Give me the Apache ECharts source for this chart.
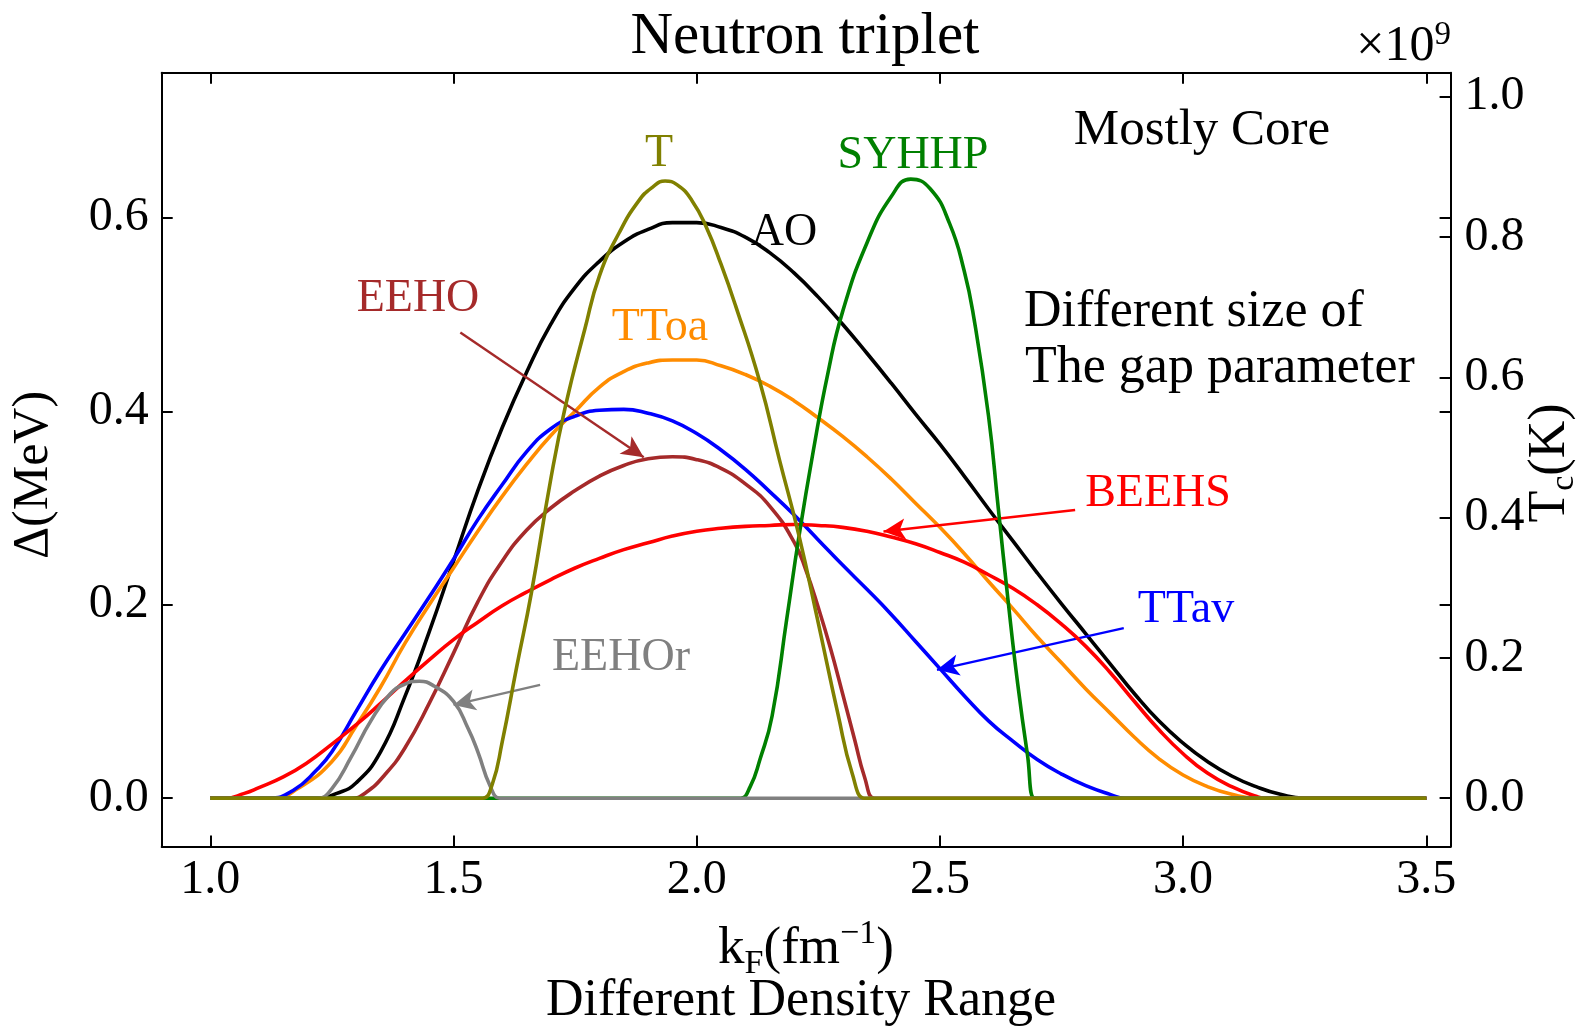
<!DOCTYPE html>
<html>
<head>
<meta charset="utf-8">
<script src="https://cdn.jsdelivr.net/npm/echarts@6.0.0/dist/echarts.min.js"></script>
<style>
  html, body { margin: 0; padding: 0; background: #fff; }
  #chart { width: 1585px; height: 1027px; }
</style>
</head>
<body>
<div id="chart"></div>
<script>
// ---------- data (k_F in fm^-1, Delta in MeV) ----------
const X_TICKS = [1.0, 1.5, 2.0, 2.5, 3.0, 3.5];
const Y_TICKS = [0.0, 0.2, 0.4, 0.6];
const TC_TICKS = [0.0, 0.2, 0.4, 0.6, 0.8, 1.0];

const AO = [[1.0,0],[1.20,0],[1.22,0],[1.26,0.005],[1.30,0.016],[1.35,0.048],[1.40,0.105],[1.45,0.172],[1.50,0.245],[1.55,0.318],[1.60,0.383],[1.65,0.440],[1.70,0.490],[1.75,0.528],[1.80,0.555],[1.85,0.575],[1.90,0.588],[1.95,0.595],[2.00,0.595],[2.05,0.590],[2.10,0.580],[2.15,0.564],[2.20,0.543],[2.25,0.518],[2.30,0.490],[2.35,0.460],[2.40,0.429],[2.45,0.397],[2.50,0.366],[2.55,0.333],[2.60,0.299],[2.65,0.266],[2.70,0.233],[2.75,0.201],[2.80,0.170],[2.85,0.139],[2.90,0.108],[2.95,0.080],[3.00,0.057],[3.05,0.038],[3.10,0.023],[3.15,0.012],[3.20,0.004],[3.25,0],[3.27,0],[3.5,0]];

const TToa = [[1.0,0],[1.11,0],[1.13,0],[1.18,0.010],[1.25,0.038],[1.30,0.075],[1.35,0.115],[1.40,0.160],[1.45,0.200],[1.50,0.238],[1.55,0.276],[1.60,0.312],[1.65,0.345],[1.70,0.375],[1.75,0.400],[1.80,0.425],[1.85,0.441],[1.90,0.450],[1.95,0.453],[2.00,0.453],[2.05,0.447],[2.10,0.438],[2.15,0.426],[2.20,0.411],[2.25,0.393],[2.30,0.374],[2.35,0.353],[2.40,0.330],[2.45,0.305],[2.50,0.280],[2.55,0.253],[2.60,0.224],[2.65,0.196],[2.70,0.167],[2.75,0.140],[2.80,0.113],[2.85,0.088],[2.90,0.063],[2.95,0.041],[3.00,0.024],[3.05,0.012],[3.10,0.004],[3.15,0],[3.17,0],[3.5,0]];

const TTav = [[1.0,0],[1.10,0],[1.12,0],[1.17,0.008],[1.22,0.030],[1.25,0.048],[1.30,0.090],[1.35,0.132],[1.40,0.170],[1.45,0.208],[1.50,0.247],[1.55,0.288],[1.60,0.324],[1.65,0.358],[1.70,0.382],[1.75,0.395],[1.80,0.401],[1.85,0.402],[1.90,0.398],[1.95,0.390],[2.00,0.377],[2.05,0.360],[2.10,0.340],[2.15,0.317],[2.20,0.293],[2.25,0.267],[2.30,0.241],[2.35,0.216],[2.40,0.190],[2.45,0.162],[2.50,0.134],[2.55,0.106],[2.60,0.080],[2.65,0.059],[2.70,0.040],[2.75,0.025],[2.80,0.013],[2.85,0.004],[2.88,0],[2.90,0],[3.5,0]];

const EEHO = [[1.0,0],[1.27,0],[1.29,0],[1.32,0.006],[1.36,0.025],[1.40,0.052],[1.45,0.098],[1.50,0.150],[1.55,0.203],[1.60,0.245],[1.65,0.277],[1.70,0.300],[1.75,0.318],[1.80,0.333],[1.85,0.344],[1.90,0.351],[1.95,0.353],[2.00,0.350],[2.05,0.341],[2.10,0.325],[2.15,0.302],[2.20,0.265],[2.225,0.235],[2.25,0.197],[2.275,0.155],[2.30,0.108],[2.325,0.060],[2.345,0.022],[2.365,0],[2.38,0],[3.5,0]];

const BEEHS = [[1.0,0],[1.02,0],[1.03,0],[1.07,0.005],[1.10,0.011],[1.15,0.022],[1.20,0.037],[1.25,0.056],[1.30,0.076],[1.35,0.098],[1.40,0.121],[1.45,0.143],[1.50,0.164],[1.55,0.182],[1.60,0.199],[1.65,0.213],[1.70,0.226],[1.75,0.238],[1.80,0.248],[1.85,0.257],[1.90,0.264],[1.95,0.271],[2.00,0.276],[2.05,0.279],[2.10,0.281],[2.15,0.282],[2.20,0.283],[2.25,0.282],[2.30,0.280],[2.35,0.276],[2.40,0.270],[2.45,0.263],[2.50,0.254],[2.55,0.244],[2.60,0.231],[2.65,0.217],[2.70,0.200],[2.75,0.180],[2.80,0.157],[2.85,0.130],[2.90,0.100],[2.95,0.071],[3.00,0.046],[3.05,0.026],[3.10,0.012],[3.15,0.002],[3.17,0],[3.19,0],[3.5,0]];

const SYHHP = [[1.0,0],[2.07,0],[2.09,0],[2.11,0.012],[2.13,0.040],[2.155,0.085],[2.185,0.185],[2.21,0.270],[2.24,0.360],[2.27,0.440],[2.30,0.503],[2.35,0.574],[2.40,0.622],[2.44,0.640],[2.48,0.630],[2.52,0.594],[2.55,0.545],[2.57,0.496],[2.60,0.395],[2.62,0.300],[2.64,0.205],[2.66,0.118],[2.68,0.045],[2.695,0],[2.71,0],[3.5,0]];

const EEHOr = [[1.0,0],[1.20,0],[1.22,0],[1.25,0.010],[1.29,0.043],[1.33,0.080],[1.37,0.108],[1.40,0.118],[1.43,0.121],[1.46,0.116],[1.50,0.100],[1.53,0.072],[1.55,0.048],[1.575,0.013],[1.595,0],[1.61,0],[3.5,0]];

const T = [[1.0,0],[1.54,0],[1.56,0],[1.58,0.015],[1.60,0.058],[1.63,0.136],[1.66,0.212],[1.70,0.330],[1.73,0.405],[1.77,0.485],[1.80,0.540],[1.84,0.584],[1.88,0.617],[1.91,0.632],[1.935,0.638],[1.96,0.634],[1.99,0.618],[2.02,0.590],[2.05,0.552],[2.08,0.509],[2.13,0.430],[2.17,0.350],[2.21,0.272],[2.25,0.181],[2.29,0.088],[2.32,0.025],[2.345,0],[2.36,0],[3.5,0]];

// annotation arrows: [from, to] in data coordinates
const ARROW_EEHO  = [[1.514, 0.4815], [1.891, 0.3524]];
const ARROW_BEEHS = [[2.778, 0.298], [2.384, 0.2757]];
const ARROW_TTAV  = [[2.878, 0.1758], [2.494, 0.1327]];
const ARROW_EEHOR = [[1.678, 0.1172], [1.500, 0.0965]];

// ---------- chart ----------
const SERIF = '"Liberation Serif", "DejaVu Serif", serif';
const chart = echarts.init(document.getElementById('chart'), null, { renderer: 'canvas' });

function lineSeries(name, data, color, arrow, z) {
  const s = {
    name, type: 'line', data, xAxisIndex: 0, yAxisIndex: 0,
    showSymbol: false, symbol: 'none', smooth: 0.5,
    lineStyle: { color, width: 3.6 }, itemStyle: { color }, z: z,
    silent: true
  };
  if (arrow) {
    s.markLine = {
      silent: true, symbol: ['none', 'arrow'], symbolSize: [16, 22],
      label: { show: false },
      lineStyle: { color, width: 2.4, type: 'solid' },
      data: [[{ coord: arrow[0] }, { coord: arrow[1] }]]
    };
  }
  return s;
}

const axisLineStyle = { color: '#000', width: 2 };
const tickStyle = { color: '#000', width: 2 };

const option = {
  animation: false,
  backgroundColor: '#fff',
  grid: { left: 161.7, right: 134.4, top: 72.7, bottom: 180.4, containLabel: false },
  xAxis: [
    {
      type: 'value', position: 'bottom', min: 0.9, max: 3.55,
      axisLine: { show: true, onZero: false, lineStyle: axisLineStyle },
      axisTick: { show: true, inside: true, length: 11, customValues: X_TICKS, lineStyle: tickStyle },
      axisLabel: { show: true, customValues: X_TICKS, formatter: v => v.toFixed(1),
        fontFamily: SERIF, fontSize: 48, color: '#000', margin: 10 },
      splitLine: { show: false }
    },
    {
      type: 'value', position: 'top', min: 0.9, max: 3.55,
      axisLine: { show: true, onZero: false, lineStyle: axisLineStyle },
      axisTick: { show: true, inside: true, length: 11, customValues: X_TICKS, lineStyle: tickStyle },
      axisLabel: { show: false },
      splitLine: { show: false }
    }
  ],
  yAxis: [
    {
      type: 'value', position: 'left', min: -0.05, max: 0.75,
      axisLine: { show: true, onZero: false, lineStyle: axisLineStyle },
      axisTick: { show: true, inside: true, length: 11, customValues: Y_TICKS, lineStyle: tickStyle },
      axisLabel: { show: true, customValues: Y_TICKS, formatter: v => v.toFixed(1),
        fontFamily: SERIF, fontSize: 48, color: '#000', margin: 13 },
      splitLine: { show: false }
    },
    {
      type: 'value', position: 'right', min: -0.069, max: 1.0343,
      axisLine: { show: true, onZero: false, lineStyle: axisLineStyle },
      axisTick: { show: true, inside: true, length: 11, customValues: TC_TICKS, lineStyle: tickStyle },
      axisLabel: { show: true, customValues: TC_TICKS, formatter: v => v.toFixed(1),
        fontFamily: SERIF, fontSize: 48, color: '#000', margin: 14 },
      splitLine: { show: false }
    },
    {
      type: 'value', position: 'right', min: -0.05, max: 0.75, offset: 0,
      axisLine: { show: false, onZero: false },
      axisTick: { show: true, inside: true, length: 11, customValues: Y_TICKS, lineStyle: tickStyle },
      axisLabel: { show: false },
      splitLine: { show: false }
    }
  ],
  series: [
    lineSeries('AO', AO, '#000000', null, 2),
    lineSeries('TToa', TToa, '#ff8c00', null, 3),
    lineSeries('TTav', TTav, '#0000ff', ARROW_TTAV, 4),
    lineSeries('EEHO', EEHO, '#a52a2a', ARROW_EEHO, 5),
    lineSeries('BEEHS', BEEHS, '#ff0000', ARROW_BEEHS, 6),
    lineSeries('SYHHP', SYHHP, '#008000', null, 7),
    lineSeries('EEHOr', EEHOr, '#808080', ARROW_EEHOR, 8),
    lineSeries('T', T, '#808000', null, 9)
  ],
  graphic: [
    // title
    { type: 'text', x: 805, y: 37, z: 100, style: { text: 'Neutron triplet', fontFamily: SERIF, fontSize: 59,
      fill: '#000', align: 'center', verticalAlign: 'middle', textAlign: 'center', textVerticalAlign: 'middle' } },
    // x10^9 multiplier
    { type: 'text', x: 1451, y: 47, z: 100, style: {
      text: '{a|×10}{s|9}', align: 'right', verticalAlign: 'middle', textAlign: 'right', textVerticalAlign: 'middle',
      rich: {
        a: { fontFamily: SERIF, fontSize: 50, fill: '#000', lineHeight: 56, verticalAlign: 'middle' },
        s: { fontFamily: SERIF, fontSize: 33, fill: '#000', lineHeight: 30, verticalAlign: 'top' }
      } } },
    // x axis label
    { type: 'text', x: 806, y: 949, z: 100, style: {
      text: '{a|k}{b|F}{a|(fm}{c|−1}{a|)}', align: 'center', verticalAlign: 'middle', textAlign: 'center', textVerticalAlign: 'middle',
      rich: {
        a: { fontFamily: SERIF, fontSize: 53, fill: '#000', lineHeight: 64, verticalAlign: 'middle' },
        b: { fontFamily: SERIF, fontSize: 34, fill: '#000', lineHeight: 30, verticalAlign: 'bottom' },
        c: { fontFamily: SERIF, fontSize: 34, fill: '#000', lineHeight: 30, verticalAlign: 'top' }
      } } },
    // left y label
    { type: 'text', x: 34, y: 475, rotation: Math.PI / 2, z: 100, style: {
      text: 'Δ(MeV)', fontFamily: SERIF, fontSize: 50, fill: '#000',
      align: 'center', verticalAlign: 'middle', textAlign: 'center', textVerticalAlign: 'middle' } },
    // right y label
    { type: 'text', x: 1550, y: 463, rotation: Math.PI / 2, z: 100, style: {
      text: '{a|T}{b|c}{a|(K)}', align: 'center', verticalAlign: 'middle', textAlign: 'center', textVerticalAlign: 'middle',
      rich: {
        a: { fontFamily: SERIF, fontSize: 52, fill: '#000', lineHeight: 62, verticalAlign: 'middle' },
        b: { fontFamily: SERIF, fontSize: 34, fill: '#000', lineHeight: 30, verticalAlign: 'bottom' }
      } } },
    // bottom caption
    { type: 'text', x: 801, y: 1001, z: 100, style: { text: 'Different Density Range', fontFamily: SERIF, fontSize: 52,
      fill: '#000', align: 'center', verticalAlign: 'middle', textAlign: 'center', textVerticalAlign: 'middle' } },
    // region notes
    { type: 'text', x: 1202, y: 131, z: 100, style: { text: 'Mostly Core', fontFamily: SERIF, fontSize: 51,
      fill: '#000', align: 'center', verticalAlign: 'middle', textAlign: 'center', textVerticalAlign: 'middle' } },
    { type: 'text', x: 1024, y: 312, z: 100, style: { text: 'Different size of', fontFamily: SERIF, fontSize: 52,
      fill: '#000', align: 'left', verticalAlign: 'middle', textAlign: 'left', textVerticalAlign: 'middle' } },
    { type: 'text', x: 1025, y: 368, z: 100, style: { text: 'The gap parameter', fontFamily: SERIF, fontSize: 52,
      fill: '#000', align: 'left', verticalAlign: 'middle', textAlign: 'left', textVerticalAlign: 'middle' } },
    // curve labels
    ...[
      ['T', 659, 154, '#808000'],
      ['SYHHP', 913, 156, '#008000'],
      ['AO', 784, 233, '#000000'],
      ['TToa', 660, 328, '#ff8c00'],
      ['EEHO', 418, 299, '#a52a2a'],
      ['BEEHS', 1158, 494, '#ff0000'],
      ['TTav', 1186, 610, '#0000ff'],
      ['EEHOr', 621, 658, '#808080']
    ].map(([t, x, y, c]) => ({
      type: 'text', x, y, z: 100, style: { text: t, fontFamily: SERIF, fontSize: 46, fill: c,
        align: 'center', verticalAlign: 'middle', textAlign: 'center', textVerticalAlign: 'middle' }
    }))
  ]
};
chart.setOption(option);
</script>
</body>
</html>
